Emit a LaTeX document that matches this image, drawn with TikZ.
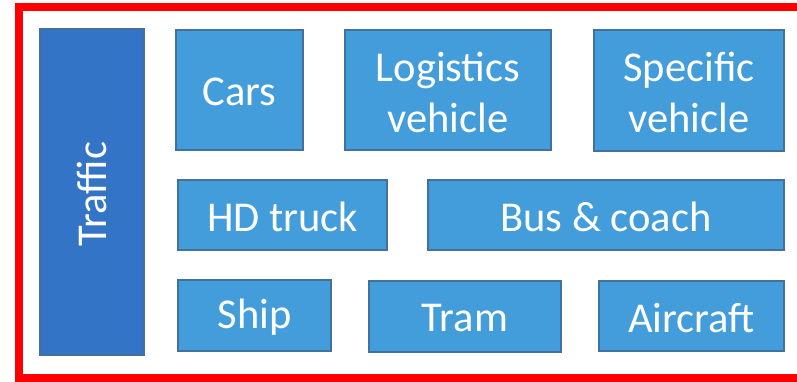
\documentclass[tikz,border=0pt]{standalone}
\usepackage{fontspec}
\setmainfont{Carlito}
\definecolor{boxfill}{RGB}{68,157,219}
\definecolor{darkfill}{RGB}{51,116,198}
\definecolor{boxline}{RGB}{65,113,156}
\definecolor{frame}{RGB}{255,0,0}
\tikzset{
  cat/.style={draw=boxline, line width=2bp, fill=boxfill, inner sep=0pt},
  maincat/.style={cat, fill=darkfill},
  lbl/.style={text=white, inner sep=0pt, align=center, font=\fontsize{42.5bp}{51bp}\selectfont},
}
\begin{document}
\begin{tikzpicture}[x=1bp,y=-1bp]
\useasboundingbox (0,0) rectangle (797,381);
\draw[frame, line width=8bp] (19,7) rectangle (805,378);
\node[maincat, minimum width=104bp, minimum height=326bp] (traffic) at (92,192) {};
\node[lbl, rotate=90, xshift=-2bp] (traffictext) at (traffic.center) {Traffic};
\node[cat, minimum width=127bp, minimum height=120bp] (cars) at (239.5,90) {};
\node[lbl, yshift=-2bp] (carst) at (cars.center) {Cars};
\node[cat, minimum width=206bp, minimum height=120bp] (logistics) at (448,90) {};
\node[lbl, yshift=-2bp] (logisticst) at (logistics.center) {Logistics\\vehicle};
\node[cat, minimum width=190bp, minimum height=121bp] (specific) at (689,90.5) {};
\node[lbl, yshift=-2bp] (specifict) at (specific.center) {Specific\\vehicle};
\node[cat, minimum width=209bp, minimum height=70bp] (hd) at (282.5,215) {};
\node[lbl, yshift=-2bp] (hdt) at (hd.center) {HD truck};
\node[cat, minimum width=356bp, minimum height=70bp] (bus) at (606,215) {};
\node[lbl, yshift=-2bp] (bust) at (bus.center) {Bus \& coach};
\node[cat, minimum width=153bp, minimum height=71bp] (ship) at (254.5,315.5) {};
\node[lbl, yshift=-2bp] (shipt) at (ship.center) {Ship};
\node[cat, minimum width=192bp, minimum height=71bp] (tram) at (465,316.5) {};
\node[lbl, yshift=-2bp] (tramt) at (tram.center) {Tram};
\node[cat, minimum width=185bp, minimum height=70bp] (aircraft) at (691.5,316) {};
\node[lbl, yshift=-2bp] (aircraftt) at (aircraft.center) {Aircraft};
\end{tikzpicture}
\end{document}
